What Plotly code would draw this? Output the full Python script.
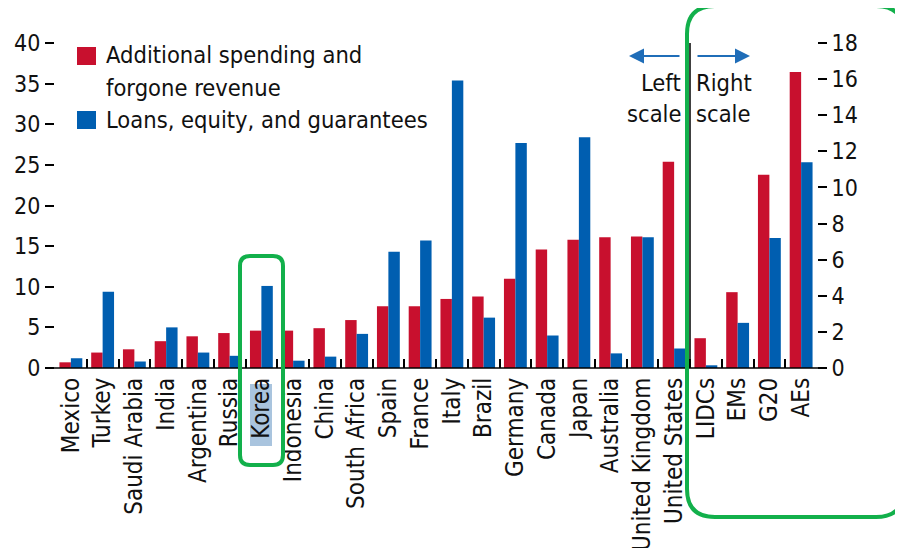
import plotly.graph_objects as go

# ---- data ----
countries = ["Mexico", "Turkey", "Saudi Arabia", "India", "Argentina", "Russia", "Korea",
             "Indonesia", "China", "South Africa", "Spain", "France", "Italy", "Brazil",
             "Germany", "Canada", "Japan", "Australia", "United Kingdom", "United States"]
spend_left = [0.7, 1.9, 2.3, 3.3, 3.9, 4.3, 4.6, 4.6, 4.9, 5.9, 7.6, 7.6, 8.5, 8.8,
              11.0, 14.6, 15.8, 16.1, 16.2, 25.4]
loans_left = [1.2, 9.4, 0.8, 5.0, 1.9, 1.5, 10.1, 0.9, 1.4, 4.2, 14.3, 15.7, 35.4, 6.2,
              27.7, 4.0, 28.4, 1.8, 16.1, 2.4]
groups = ["LIDCs", "EMs", "G20", "AEs"]
spend_right = [1.65, 4.2, 10.7, 16.4]
loans_right = [0.15, 2.5, 7.2, 11.4]

left_ticks = [0, 5, 10, 15, 20, 25, 30, 35, 40]
right_ticks = [0, 2, 4, 6, 8, 10, 12, 14, 16, 18]

RED = "#C8102E"
BLUE = "#005EB0"
GREEN = "#12B04B"
FONT = "DejaVu Sans Condensed, Liberation Sans Narrow, Arial Narrow, sans-serif"

# page body has an 8px margin, so the figure is offset by 8px in the window
OFF = 8
W, H = 903 - OFF, 548 - OFF
L, R, T, B = 55 - OFF, 86, 43 - OFF, 180
PW, PH = W - L - R, H - T - B


def px(x):
    # window pixel -> paper x
    return (x - OFF - L) / PW


def py(y):
    # window pixel -> paper y
    return (H - B - (y - OFF)) / PH


fig = go.Figure()
bw = 0.36
fig.add_trace(go.Bar(x=countries, y=spend_left, marker_color=RED, width=bw, offset=-bw,
                     marker_line_width=0, showlegend=False, yaxis="y"))
fig.add_trace(go.Bar(x=countries, y=loans_left, marker_color=BLUE, width=bw, offset=0,
                     marker_line_width=0, showlegend=False, yaxis="y"))
fig.add_trace(go.Bar(x=groups, y=spend_right, marker_color=RED, width=bw, offset=-bw,
                     marker_line_width=0, showlegend=False, yaxis="y2"))
fig.add_trace(go.Bar(x=groups, y=loans_right, marker_color=BLUE, width=bw, offset=0,
                     marker_line_width=0, showlegend=False, yaxis="y2"))

shapes = []
annotations = []

# baseline extended slightly past both axes
shapes.append(dict(type="line", xref="paper", yref="paper", x0=px(47), x1=px(826),
                   y0=0, y1=0, line=dict(color="black", width=1.5), layer="above"))
# separator between left- and right-scale groups
shapes.append(dict(type="line", xref="x", yref="paper", x0=19.5, x1=19.5, y0=0, y1=1,
                   line=dict(color="black", width=1.5)))

# legend swatches
shapes.append(dict(type="rect", xref="paper", yref="paper", x0=px(77), x1=px(96),
                   y0=py(65), y1=py(47), fillcolor=RED, line_width=0))
shapes.append(dict(type="rect", xref="paper", yref="paper", x0=px(77), x1=px(96),
                   y0=py(129), y1=py(111), fillcolor=BLUE, line_width=0))
for txt, yy in [("Additional spending and", 55.5), ("forgone revenue", 87.5),
                ("Loans, equity, and guarantees", 120)]:
    annotations.append(dict(text=txt, xref="paper", yref="paper", x=px(104), y=py(yy),
                            xanchor="left", yanchor="middle", showarrow=False,
                            font=dict(family=FONT, size=23.5, color="#111111")))

# Left / Right scale labels
for txt, yy in [("Left", 83), ("scale", 114)]:
    annotations.append(dict(text=txt, xref="paper", yref="paper", x=px(683), y=py(yy),
                            xanchor="right", yanchor="middle", showarrow=False,
                            font=dict(family=FONT, size=23.5, color="#111111")))
for txt, yy in [("Right", 83), ("scale", 114)]:
    annotations.append(dict(text=txt, xref="paper", yref="paper", x=px(694), y=py(yy),
                            xanchor="left", yanchor="middle", showarrow=False,
                            font=dict(family=FONT, size=23.5, color="#111111")))
# arrows
annotations.append(dict(xref="paper", yref="paper", x=px(629), y=py(56), ax=52, ay=0,
                        text="", showarrow=True, arrowhead=2, arrowsize=1.5, arrowwidth=2,
                        arrowcolor="#1F6DB8"))
annotations.append(dict(xref="paper", yref="paper", x=px(750), y=py(56), ax=-54, ay=0,
                        text="", showarrow=True, arrowhead=2, arrowsize=1.5, arrowwidth=2,
                        arrowcolor="#1F6DB8"))


def rounded(x0, y0, x1, y1, r):
    # window pixel coords -> paper path with rounded corners
    X = lambda v: f"{px(v):.5f}"
    Y = lambda v: f"{py(v):.5f}"
    return (f"M{X(x0 + r)},{Y(y0)} L{X(x1 - r)},{Y(y0)} Q{X(x1)},{Y(y0)} {X(x1)},{Y(y0 + r)} "
            f"L{X(x1)},{Y(y1 - r)} Q{X(x1)},{Y(y1)} {X(x1 - r)},{Y(y1)} "
            f"L{X(x0 + r)},{Y(y1)} Q{X(x0)},{Y(y1)} {X(x0)},{Y(y1 - r)} "
            f"L{X(x0)},{Y(y0 + r)} Q{X(x0)},{Y(y0)} {X(x0 + r)},{Y(y0)} Z")


# Korea label highlight
shapes.append(dict(type="rect", xref="paper", yref="paper", x0=px(250), x1=px(272),
                   y0=py(446), y1=py(384), fillcolor="#A9C4DE", line_width=0, layer="below"))
# green highlight boxes
shapes.append(dict(type="path", xref="paper", yref="paper", path=rounded(240, 256, 283, 465, 10),
                   line=dict(color=GREEN, width=4)))
shapes.append(dict(type="path", xref="paper", yref="paper", path=rounded(687, 6, 904, 517, 28),
                   line=dict(color=GREEN, width=4)))

fig.update_layout(
    width=W, height=H,
    margin=dict(l=L, r=R, t=T, b=B, pad=0, autoexpand=False),
    paper_bgcolor="white", plot_bgcolor="white",
    barmode="group",
    font=dict(family=FONT, size=23, color="#111111"),
    xaxis=dict(categoryorder="array", categoryarray=countries + groups,
               range=[-0.5, len(countries) + len(groups) - 0.5],
               tickson="boundaries", ticks="inside", ticklen=9, tickwidth=1.5,
               tickcolor="black", tickangle=-90, tickfont=dict(size=24, family=FONT),
               ticklabelstandoff=4,
               showgrid=False, zeroline=False, showline=False, automargin=False),
    yaxis=dict(range=[0, 40], tickvals=left_ticks, ticks="outside", ticklen=9,
               tickwidth=1.5, tickcolor="black", showgrid=False, zeroline=False,
               showline=False, tickfont=dict(size=23, family=FONT), automargin=False),
    yaxis2=dict(range=[0, 18], tickvals=right_ticks, overlaying="y", side="right",
                ticks="outside", ticklen=9, tickwidth=1.5, tickcolor="black",
                showgrid=False, zeroline=False, showline=False, automargin=False,
                tickfont=dict(size=23, family=FONT)),
    shapes=shapes,
    annotations=annotations,
)

fig.write_html("out.html")
